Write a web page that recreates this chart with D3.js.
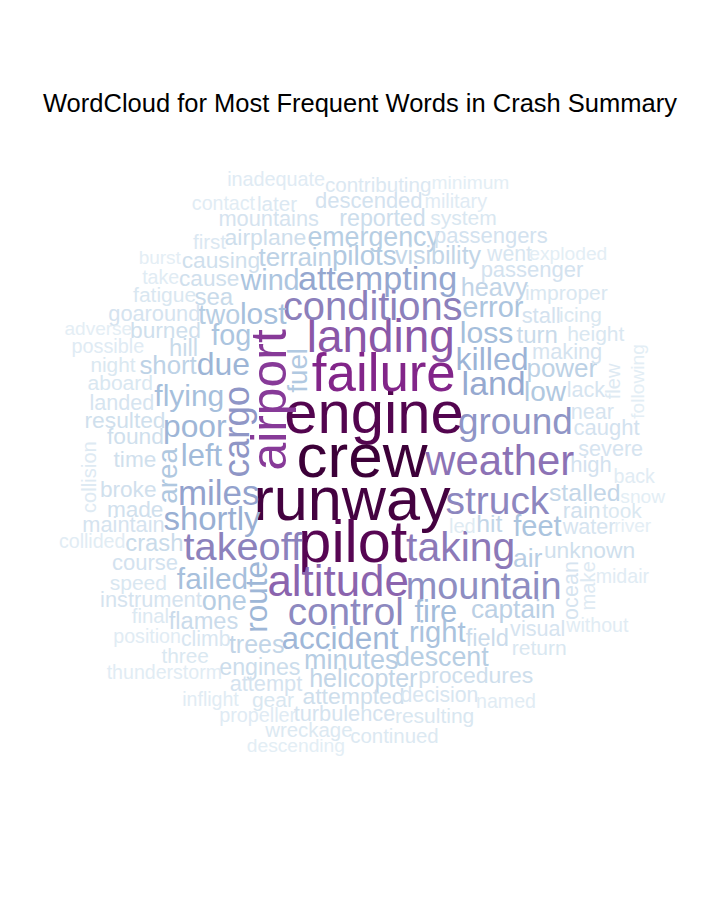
<!DOCTYPE html>
<html>
<head>
<meta charset="utf-8">
<script src="https://cdn.jsdelivr.net/npm/d3@7"></script>
<style>
  body { margin: 0; background: #ffffff; }
  svg { display: block; }
</style>
</head>
<body>
<div id="chart"></div>
<script>
// ---------------- data ----------------
const chartTitle = "WordCloud for Most Frequent Words in Crash Summary";

const words = ["crew","runway","engine","pilot","failure","airport","landing","altitude","weather","taking",
"conditions","takeoff","struck","control","mountain","ground","cargo","miles","attempting","land",
"shortly","killed","due","poor","route","accident","left","fire","loss","lost",
"flying","failed","right","feet","error","fog","wind","low","area","pilots",
"fuel","two","one","minutes","emergency","descent","air","captain","power","terrain",
"short","heavy","trees","visibility","helicopter","stalled","hit","turn","sea","hill",
"crash","flames","field","engines","reported","attempted","airplane","procedures","burned","unknown",
"resulted","causing","found","cause","time","broke","made","rain","high","course",
"passenger","passengers","caught","descended","stall","making","instrument","mountains","maintain","attempt",
"goaround","turbulence","water","near","landed","visual","severe","lack","ocean","decision",
"climb","went","fatigue","aboard","speed","improper","system","return","height","gear",
"resulting","icing","night","took","three","later","first","contributing","wreckage","continued",
"final","collision","make","flew","led","take","possible","military","propeller","inadequate",
"thunderstorm","collided","position","back","inflight","named","contact","without","midair","snow",
"following","exploded","descending","minimum","river","burst","adverse"];

const freqs = [622,614,600,596,530,500,460,440,420,410,
400,398,390,388,380,370,368,350,342,340,
330,322,320,318,316,315,310,308,302,300,
300,298,292,290,290,288,288,280,280,278,
278,270,270,270,268,268,266,262,260,260,
258,252,250,250,250,248,248,240,240,238,
238,236,236,232,232,230,230,230,228,228,
228,228,228,226,226,226,226,226,220,220,
220,220,220,220,220,218,218,218,218,218,
218,218,216,216,216,216,216,216,216,212,
212,212,210,210,210,210,210,210,210,210,
210,208,208,208,208,206,206,206,204,204,
204,202,202,202,200,196,198,198,198,198,
196,196,196,196,196,196,196,196,196,192,
192,192,192,192,190,190,190];

// words drawn vertically (reading bottom to top)
const rotatedWords = ["airport","cargo","route","fuel","ocean","area","make","collision","following","flew"];

// ---------------- chart ----------------
const W = 720, H = 921;
const FONT = "'Liberation Sans', Arial, Helvetica, sans-serif";

const svg = d3.select("#chart").append("svg")
  .attr("width", W).attr("height", H)
  .style("background", "#ffffff");

svg.append("text")
  .attr("x", W / 2).attr("y", 112)
  .attr("text-anchor", "middle")
  .style("font-family", FONT)
  .style("font-size", "25.5px")
  .style("fill", "#000")
  .text(chartTitle);

const ext = d3.extent(freqs);
const sizeScale = d3.scaleLinear().domain(ext).range([19, 62]);
const darkEnd = d3.interpolateRgb("#810f7c", "#3c0038");
const palette = t => t < 0.875 ? d3.interpolateBuPu(t) : darkEnd((t - 0.875) / 0.125);
const colorScale = d3.scaleSequentialPow(t => palette(0.1 + 0.9 * t)).exponent(0.8).domain(ext);

const data = words.map((w, i) => ({ text: w, freq: freqs[i], rot: rotatedWords.includes(w), idx: i }))
  .sort((a, b) => (b.freq - a.freq) || (a.idx - b.idx));

const g = svg.append("g").style("font-family", FONT);
const placed = [];
const cx = 362, cy = 458;
const bounds = { x0: 58, x1: 668, y0: 172, y1: 756 };

data.forEach((d, i) => {
  const fs = sizeScale(d.freq);
  const t = g.append("text")
    .attr("text-anchor", "middle")
    .style("font-size", fs + "px")
    .style("fill", colorScale(d.freq))
    .text(d.text);
  const tw = t.node().getComputedTextLength();
  let bw = tw * 0.95, bh = fs * 0.7;
  if (d.rot) { const tmp = bw; bw = bh; bh = tmp; }

  // Archimedean spiral (counter-clockwise on screen), start direction alternating
  let theta = (Math.PI / 2 + (i - 1) * (Math.PI + 0.25)) % (2 * Math.PI), r = 0;
  let x = cx, y = cy, found = false;
  for (let k = 0; k < 60000; k++) {
    const b = { x0: x - bw / 2, x1: x + bw / 2, y0: y - bh / 2, y1: y + bh / 2 };
    if (b.x0 >= bounds.x0 && b.x1 <= bounds.x1 && b.y0 >= bounds.y0 && b.y1 <= bounds.y1 &&
        !placed.some(p => p.x0 < b.x1 && p.x1 > b.x0 && p.y0 < b.y1 && p.y1 > b.y0)) {
      placed.push(b); found = true; break;
    }
    theta += 0.1;
    r += 6 * 0.1 / (2 * Math.PI);
    x = cx + r * Math.cos(theta);
    y = cy - r * Math.sin(theta);
  }
  if (!found) { t.remove(); return; }
  t.attr("transform", `translate(${x},${y}) rotate(${d.rot ? -90 : 0})`)
   .attr("dy", (0.3 * fs) + "px");
});
</script>
</body>
</html>
